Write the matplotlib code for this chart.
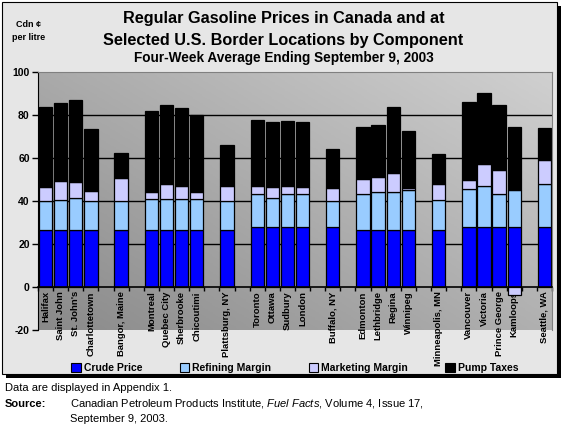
import numpy as np
import matplotlib
matplotlib.use("Agg")
import matplotlib.pyplot as plt
from matplotlib.patches import Rectangle, Patch
from matplotlib.colors import LinearSegmentedColormap

plt.rcParams['font.family'] = ['Liberation Sans', 'DejaVu Sans']
plt.rcParams['mathtext.fontset'] = 'custom'
plt.rcParams['mathtext.rm'] = 'Liberation Sans'
plt.rcParams['mathtext.it'] = 'Liberation Sans:italic'
plt.rcParams['axes.unicode_minus'] = False

# city groups (a blank slot separates each group on the chart)
groups = [
    ["Halifax", "Saint John", "St. John's", "Charlottetown"],
    ["Bangor, Maine"],
    ["Montreal", "Quebec City", "Sherbrooke", "Chicoutimi"],
    ["Plattsburg, NY"],
    ["Toronto", "Ottawa", "Sudbury", "London"],
    ["Buffalo, NY"],
    ["Edmonton", "Lethbridge", "Regina", "Winnipeg"],
    ["Minneapolis, MN"],
    ["Vancouver", "Victoria", "Prince George", "Kamloops"],
    ["Seattle, WA"],
]

# Cdn cents per litre
crude = [26.3, 26.3, 26.3, 26.3, 26.3, 26.7, 26.7, 26.7, 26.7, 26.7,
         28.1, 28.1, 28.1, 28.1, 28.1, 26.3, 26.3, 26.3, 26.3, 26.3,
         27.7, 27.7, 27.7, 27.7, 27.7]
refining = [13.7, 14.3, 15.1, 13.7, 13.7, 14.2, 14.2, 14.2, 14.2, 13.3,
            15.3, 13.4, 15.3, 15.3, 11.9, 17.0, 17.8, 18.0, 18.6, 14.3,
            18.0, 19.4, 15.7, 17.4, 20.3]
marketing = [6.7, 8.9, 7.3, 4.6, 10.6, 3.1, 7.2, 6.0, 3.1, 7.2,
             3.8, 5.2, 3.8, 3.0, 6.0, 6.8, 7.0, 8.6, 1.2, 7.1,
             4.0, 10.0, 10.9, -3.5, 10.9]
taxes = [36.8, 36.0, 38.2, 28.9, 11.8, 37.8, 36.5, 36.3, 35.8, 18.9,
         30.5, 30.0, 30.0, 30.3, 18.3, 24.3, 24.3, 30.6, 26.5, 14.3,
         36.3, 33.0, 30.3, 29.3, 15.1]

series = [("Crude Price", crude, "#0000ff"),
          ("Refining Margin", refining, "#99ccff"),
          ("Marketing Margin", marketing, "#ccccff"),
          ("Pump Taxes", taxes, "#000000")]

# slot positions, with one empty slot between groups
cities, xpos = [], []
slot = 0
for g in groups:
    for c in g:
        cities.append(c)
        xpos.append(slot)
        slot += 1
    slot += 1
nslots = slot - 1
xpos = np.array(xpos)

fig = plt.figure(figsize=(5.67, 4.32), dpi=100)
W, H = 567, 432

# framed chart panel with drop shadow
fig.patches.append(Rectangle((6 / W, 1 - 378 / H), 555 / W, 372 / H,
                             transform=fig.transFigure, facecolor="black",
                             edgecolor="none", zorder=-3))
fig.patches.append(Rectangle((2 / W, 1 - 374 / H), 555 / W, 372 / H,
                             transform=fig.transFigure, facecolor="#e6e6e6",
                             edgecolor="black", lw=0.8, zorder=-2))

ax = fig.add_axes([38 / W, 1 - 330 / H, 514 / W, 258 / H])
ax.set_xlim(-0.5, nslots - 0.5)
ax.set_ylim(-20, 100)

# diagonal gray gradient in the plot area
gx, gy = np.meshgrid(np.linspace(0, 1, 200), np.linspace(0, 1, 200))
grad = 0.55 * gx + 0.45 * gy
cmap = LinearSegmentedColormap.from_list("bg", ["#8a8a8a", "#d0d0d0"])
ax.imshow(grad, extent=(-0.5, nslots - 0.5, -20, 100), origin="lower",
          aspect="auto", cmap=cmap, zorder=0)

for v in [20, 40, 60, 80]:
    ax.axhline(v, color="black", lw=1, zorder=1)

pos_bottom = np.zeros(len(cities))
neg_bottom = np.zeros(len(cities))
for name, vals, col in series:
    vals = np.array(vals)
    bottom = np.where(vals >= 0, pos_bottom, neg_bottom)
    ax.bar(xpos, vals, 0.88, bottom=bottom, color=col, edgecolor="black",
           lw=0.9, zorder=2)
    pos_bottom = pos_bottom + np.where(vals >= 0, vals, 0)
    neg_bottom = neg_bottom + np.where(vals < 0, vals, 0)

for s in ["top", "right"]:
    ax.spines[s].set_color("#808080")
ax.spines["left"].set_color("black")
ax.spines["bottom"].set_position(("data", 0))
ax.spines["bottom"].set_color("black")
ax.spines["bottom"].set_linewidth(1.2)
ax.spines["bottom"].set_zorder(3)

ax.set_yticks(range(-20, 101, 20))
ax.tick_params(axis="y", direction="out", length=4, width=1, pad=2,
               labelsize=7.5)
for t in ax.get_yticklabels():
    t.set_fontweight("bold")

ax.set_xticks(xpos)
ax.set_xticklabels(cities, rotation=90, fontsize=6.8, fontweight="bold",
                   va="top")
ax.set_xticks(np.arange(-0.5, nslots, 1.0), minor=True)
ax.tick_params(axis="x", which="major", length=0, pad=3)
ax.tick_params(axis="x", which="minor", direction="out", length=3, width=1)
for t in ax.get_xticklabels():
    t.set_zorder(4)

# titles
fig.text(0.5, 1 - 18 / H, "Regular Gasoline Prices in Canada and at",
         ha="center", va="center", fontsize=11.7, fontweight="bold")
fig.text(0.5, 1 - 40 / H, "Selected U.S. Border Locations by Component",
         ha="center", va="center", fontsize=11.7, fontweight="bold")
fig.text(0.5, 1 - 58 / H, "Four-Week Average Ending September 9, 2003",
         ha="center", va="center", fontsize=9.8, fontweight="bold")
fig.text(29 / W, 1 - 31 / H, "Cdn ¢\nper litre", ha="center", va="center",
         fontsize=6.5, fontweight="bold", linespacing=1.5)

handles = [Patch(facecolor=c, edgecolor="black", lw=0.8) for _, _, c in series]
fig.legend(handles, [n for n, _, _ in series], loc="center",
           bbox_to_anchor=(0.52, 1 - 368 / H), ncol=4, frameon=False,
           prop={"weight": "bold", "size": 7.5}, handlelength=0.9,
           handleheight=0.9, handletextpad=0.3, columnspacing=3.6)

# footer
fig.text(5 / W, 1 - 388 / H, "Data are displayed in Appendix 1.",
         ha="left", va="center", fontsize=8)
fig.text(5 / W, 1 - 404 / H, "Source:", ha="left", va="center",
         fontsize=8, fontweight="bold")
fig.text(70 / W, 1 - 404 / H,
         r"Canadian Petroleum Products Institute, $\it{Fuel\ Facts}$, Volume 4, Issue 17,",
         ha="left", va="center", fontsize=8)
fig.text(70 / W, 1 - 419 / H, "September 9, 2003.", ha="left", va="center",
         fontsize=8)

fig.savefig("out.png", dpi=100, facecolor="white")
